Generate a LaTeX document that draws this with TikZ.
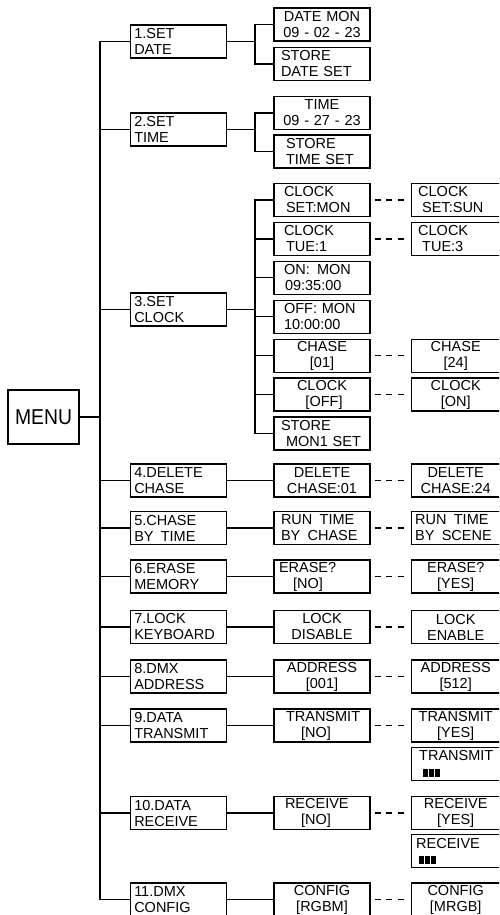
\documentclass[tikz,border=0pt]{standalone}
\usepackage{fontspec}
\setmainfont{Liberation Sans}
\usetikzlibrary{positioning}
\newcommand{\lcdbars}{\rule{4.5pt}{8pt}\hspace{1.6pt}\rule{4.5pt}{8pt}\hspace{1.6pt}\rule{4.5pt}{8pt}}

\begin{document}
\begin{tikzpicture}[x=1pt,y=-1pt,line width=1.2pt,
  menubox/.style={draw,minimum width=71pt,minimum height=54pt,inner sep=0pt,font=\fontsize{21.5}{24}\selectfont},
  itembox/.style={draw,text width=88pt,inner xsep=4pt,inner ysep=0pt,minimum height=33pt,align=left,font=\fontsize{14.5}{16}\selectfont},
  setbox/.style={itembox,align=center},
  endbox/.style={setbox,text width=81pt},
  dashlink/.style={dash pattern=on 6pt off 5.5pt,shorten <=4pt,shorten >=7pt}]
\useasboundingbox (0,0) rectangle (499,915);
\clip (0,0) rectangle (499,915);
\node[menubox] (menu) at (43.5,417) {\scalebox{.9}[1]{MENU}};
\node[itembox] (m1) at (178.25,41.5) {1.SET\\DATE};
\node[itembox] (m2) at (178.25,129.5) {2.SET\\TIME};
\node[itembox] (m3) at (178.25,309.5) {3.SET\\CLOCK};
\node[itembox] (m4) at (178.25,480.5) {4.DELETE\\CHASE};
\node[itembox] (m5) at (178.25,528) {5.CHASE\\BY\enspace TIME};
\node[itembox] (m6) at (178.25,576.5) {6.ERASE\\MEMORY};
\node[itembox] (m7) at (178.25,627) {7.LOCK\\KEYBOARD};
\node[itembox] (m8) at (178.25,676.5) {8.DMX\\ADDRESS};
\node[itembox] (m9) at (178.25,725.5) {9.DATA\\TRANSMIT};
\node[itembox] (m10) at (178.25,813) {10.DATA\\RECEIVE};
\node[itembox] (m11) at (178.25,899.5) {11.DMX\\CONFIG};
\node[setbox] (s1a) at (322,24.5) {DATE MON\\09 - 02 - 23};
\node[itembox] (s1b) at (322,64) {\hspace*{3pt}STORE\\\hspace*{3pt}DATE SET};
\node[setbox] (s2a) at (322,113) {TIME\\09 - 27 - 23};
\node[itembox] (s2b) at (322,151.5) {\hspace*{8pt}STORE\\\hspace*{8pt}TIME SET};
\node[itembox] (s3a) at (322,200) {\hspace*{6pt}CLOCK\\\hspace*{8pt}SET:MON};
\node[itembox] (s3b) at (322,238.9) {\hspace*{6pt}CLOCK\\\hspace*{8pt}TUE:1};
\node[itembox] (s3c) at (322,277.8) {\hspace*{6pt}ON:\enspace MON\\\hspace*{7pt}09:35:00};
\node[itembox] (s3d) at (322,316.7) {\hspace*{6pt}OFF: MON\\\hspace*{6pt}10:00:00};
\node[setbox] (s3e) at (322,355.6) {CHASE\\{}[01]};
\node[setbox] (s3f) at (322,394.5) {CLOCK\\\hspace*{4pt}[OFF]};
\node[itembox] (s3g) at (322,433.4) {\hspace*{3pt}STORE\\\hspace*{8pt}MON1 SET};
\node[setbox] (s4) at (322,480.5) {DELETE\\CHASE:01};
\node[itembox] (s5) at (322,528) {\hspace*{3pt}RUN\enspace TIME\\\hspace*{3pt}BY\enspace CHASE};
\node[itembox] (s6) at (322,576.5) {\hspace*{1pt}ERASE?\\\hspace*{15pt}[NO]};
\node[setbox] (s7) at (322,627) {LOCK\\DISABLE};
\node[setbox] (s8) at (322,676.5) {ADDRESS\\{}[001]};
\node[itembox] (s9) at (322,725.5) {\hspace*{8pt}TRANSMIT\\\hspace*{23pt}[NO]};
\node[itembox] (s10) at (322,813) {\hspace*{7pt}RECEIVE\\\hspace*{23pt}[NO]};
\node[setbox] (s11) at (322,899.5) {CONFIG\\{}[RGBM]};
\node[endbox,align=left,right=40pt of s3a] (r3a) {\hspace*{3pt}CLOCK\\\hspace*{7pt}SET:SUN};
\node[endbox,align=left,right=40pt of s3b] (r3b) {\hspace*{3pt}CLOCK\\\hspace*{7pt}TUE:3};
\node[endbox,right=40pt of s3e] (r3e) {CHASE\\{}[24]};
\node[endbox,right=40pt of s3f] (r3f) {CLOCK\\{}[ON]};
\node[endbox,right=40pt of s4] (r4) {DELETE\\CHASE:24};
\node[endbox,align=left,right=40pt of s5] (r5) {RUN\enspace TIME\\BY\enspace SCENE};
\node[endbox,right=40pt of s6] (r6) {ERASE?\\{}[YES]};
\node[endbox,right=40pt of s7] (r7) {LOCK\\ENABLE};
\node[endbox,right=40pt of s8] (r8) {ADDRESS\\{}[512]};
\node[endbox,right=40pt of s9] (r9) {TRANSMIT\\{}[YES]};
\node[endbox,align=left,below=4pt of r9] (r9b) {\hspace*{4pt}TRANSMIT\\\hspace*{8pt}\lcdbars};
\node[endbox,right=40pt of s10] (r10) {RECEIVE\\{}[YES]};
\node[endbox,align=left,below=4pt of r10] (r10b) {\hspace*{1pt}RECEIVE\\\hspace*{4pt}\lcdbars};
\node[endbox,right=40pt of s11] (r11) {CONFIG\\{}[MRGB]};
\coordinate (trunk) at (100,417);
\coordinate (j1) at (255,41.5);
\coordinate (j2) at (255,129.5);
\coordinate (j3) at (255,309.5);
\draw (menu) -- (trunk);
\foreach \k in {1,...,11} \draw (m\k.west) -| (trunk);
\draw (m1) -- (j1);
\draw (s1a.west) -| (j1) |- (s1b.west);
\draw (m2) -- (j2);
\draw (s2a.west) -| (j2) |- (s2b.west);
\draw (m3) -- (j3);
\foreach \k in {a,...,g} \draw (s3\k.west) -| (j3);
\foreach \k in {4,...,11} \draw (m\k) -- (s\k);
\foreach \k in {3a,3b,3e,3f,4,5,6,7,8,9,10,11} \draw[dashlink] (s\k.east) -- (r\k.west);
\end{tikzpicture}
\end{document}
